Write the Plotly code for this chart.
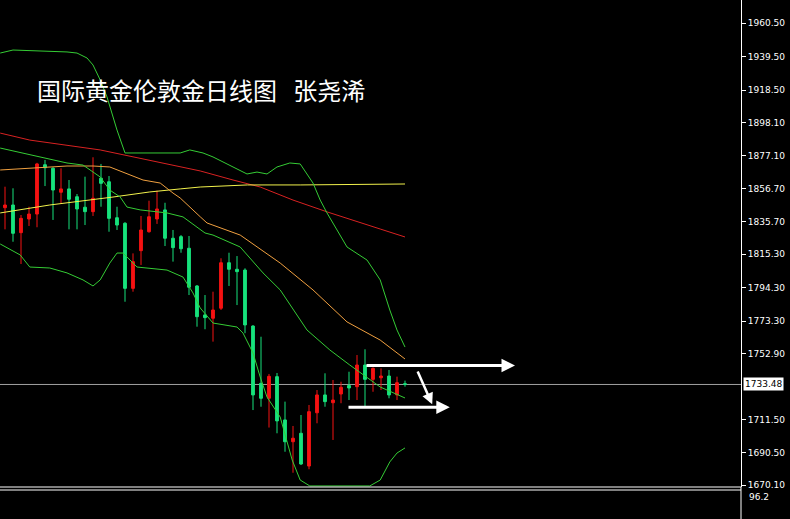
import plotly.graph_objects as go

# ---------------- data ----------------
title_text = "国际黄金伦敦金日线图\u00a0\u00a0\u00a0张尧浠"

candle_idx = list(range(51))
opens = [1844.6, 1846.3, 1828.9, 1837.5, 1840.6, 1871.6, 1869.4, 1854.3, 1856.4, 1851.5,
         1844.9, 1842.1, 1863.1, 1860.9, 1838.3, 1834.8, 1793.9, 1817.6, 1829.5, 1837.5,
         1843.2, 1825.4, 1826.4, 1819.1, 1795.4, 1777.2, 1775.1, 1781.4, 1810.0, 1805.9,
         1805.4, 1770.2, 1734.2, 1724.8, 1738.4, 1711.2, 1697.5, 1702.8, 1682.2, 1715.7,
         1726.9, 1722.0, 1727.5, 1732.8, 1732.1, 1745.7, 1736.7, 1737.7, 1738.8, 1726.9,
         1734.0]
highs = [1857.8, 1856.8, 1840.0, 1845.2, 1872.8, 1874.6, 1870.0, 1869.4, 1862.0, 1853.2,
         1864.1, 1876.3, 1872.1, 1864.5, 1845.2, 1835.5, 1815.9, 1839.4, 1849.0, 1855.3,
         1847.7, 1830.6, 1827.4, 1826.8, 1796.0, 1789.7, 1791.8, 1812.8, 1816.3, 1814.2,
         1806.5, 1770.8, 1763.5, 1740.1, 1740.7, 1722.7, 1707.4, 1714.3, 1720.6, 1730.0,
         1740.5, 1736.3, 1735.2, 1741.5, 1752.0, 1755.6, 1744.2, 1743.6, 1742.6, 1738.4,
         1735.9]
lows = [1831.0, 1823.2, 1809.2, 1833.1, 1832.3, 1858.2, 1836.9, 1847.4, 1831.0, 1831.0,
        1833.7, 1839.4, 1845.2, 1829.5, 1830.6, 1785.5, 1791.8, 1808.6, 1828.9, 1834.4,
        1820.5, 1810.7, 1816.3, 1789.7, 1769.8, 1768.2, 1760.4, 1780.3, 1795.4, 1783.4,
        1765.7, 1717.4, 1719.5, 1706.4, 1702.8, 1691.2, 1678.0, 1682.9, 1680.2, 1709.1,
        1719.5, 1698.6, 1721.7, 1723.7, 1723.7, 1719.5, 1728.9, 1730.0, 1724.8, 1723.7,
        1732.1]
closes = [1846.3, 1828.5, 1837.9, 1840.6, 1872.1, 1869.7, 1855.7, 1856.4, 1849.9, 1843.8,
          1842.1, 1850.5, 1859.9, 1837.9, 1833.7, 1793.9, 1810.7, 1830.6, 1838.9, 1843.8,
          1825.4, 1819.5, 1818.8, 1794.6, 1776.1, 1775.5, 1780.3, 1810.0, 1805.9, 1804.4,
          1770.9, 1726.9, 1724.8, 1738.6, 1710.6, 1697.5, 1699.7, 1683.5, 1716.4, 1726.9,
          1722.7, 1723.7, 1731.7, 1731.3, 1745.7, 1736.7, 1743.6, 1738.8, 1726.9, 1734.6,
          1733.5]

# long moving average (red)
ma_red_x = [-0.6, 3.1, 11.9, 24.4, 28.5, 31.9, 36.0, 40.3, 46.9, 50.0]
ma_red_y = [1891.5, 1887.1, 1880.9, 1867.7, 1862.0, 1857.6, 1849.4, 1841.9, 1831.2, 1826.2]

# moving average (yellow)
ma_yel_x = [-0.6, 5.6, 13.5, 18.1, 21.9, 24.4, 30.3, 36.9, 50.0]
ma_yel_y = [1841.3, 1846.3, 1851.3, 1854.5, 1856.4, 1857.6, 1858.9, 1858.9, 1859.5]

# moving average (orange)
ma_org_x = [-0.6, 7.75, 11.0, 13.1, 17.25, 19.4, 21.0, 21.9, 24.4, 25.25, 29.4, 34.4,
            38.5, 42.75, 46.9, 49.4, 50.0]
ma_org_y = [1868.3, 1870.8, 1870.8, 1870.2, 1862.0, 1860.1, 1853.8, 1850.7, 1838.9,
            1835.0, 1827.4, 1809.8, 1792.9, 1772.8, 1761.4, 1752.0, 1749.5]

# Bollinger middle band
bb_mid_x = [-0.6, 4.75, 7.75, 9.75, 11.9, 13.1, 14.4, 15.25, 16.9, 20.25, 22.25, 25.0,
            26.0, 29.4, 32.25, 34.4, 37.75, 40.6, 43.1, 46.9, 50.0]
bb_mid_y = [1882.1, 1875.8, 1872.7, 1871.4, 1863.9, 1855.7, 1851.3, 1845.0, 1843.2,
            1841.3, 1838.8, 1828.7, 1827.4, 1819.9, 1803.6, 1792.9, 1767.7, 1755.2,
            1745.7, 1731.9, 1725.0]

# Bollinger upper band
bb_up_x = [-0.6, 1.0, 7.75, 9.0, 10.25, 11.0, 11.9, 12.75, 14.0, 15.0, 16.0, 21.9, 23.1,
           24.75, 26.0, 28.5, 30.25, 31.5, 32.75, 34.0, 35.6, 36.9, 38.5, 39.4, 40.25,
           42.75, 45.25, 46.9, 48.1, 49.0, 50.0]
bb_up_y = [1941.8, 1943.7, 1942.5, 1941.8, 1938.7, 1934.3, 1924.9, 1914.2, 1893.4, 1879.0,
           1879.0, 1879.0, 1880.9, 1879.0, 1876.5, 1870.2, 1865.8, 1867.0, 1865.8, 1870.2,
           1872.7, 1872.1, 1860.1, 1849.4, 1841.3, 1819.9, 1811.7, 1799.2, 1780.3, 1767.7,
           1757.0]

# Bollinger lower band
bb_lo_x = [-0.6, 1.9, 3.1, 5.6, 7.75, 9.75, 11.0, 11.9, 13.1, 14.0, 14.75, 16.5, 20.25,
           22.25, 23.5, 24.4, 26.0, 29.0, 29.75, 31.0, 31.9, 32.75, 34.4, 35.9, 36.9, 38.1,
           45.6, 46.9, 48.1, 49.0, 50.0]
bb_lo_y = [1821.8, 1814.9, 1807.3, 1806.7, 1803.6, 1799.2, 1795.4, 1799.2, 1809.8, 1816.1,
           1816.1, 1807.3, 1805.4, 1801.0, 1791.0, 1781.6, 1772.1, 1769.6, 1765.8, 1753.3,
           1738.2, 1725.6, 1713.0, 1686.0, 1673.4, 1669.7, 1669.7, 1673.4, 1684.8, 1690.4,
           1693.6]

current_price = 1733.48
current_label = "1733.48"
sub_label = "96.2"

tick_vals = [1960.5, 1939.5, 1918.5, 1898.1, 1877.1, 1856.7, 1835.7, 1815.3, 1794.3,
             1773.3, 1752.9, 1711.5, 1690.5, 1670.1]
tick_text = ["%.2f" % v for v in tick_vals]

# drawn arrows (tail -> head)
arrow_tail_x = [45.0, 42.75, 51.5]
arrow_tail_y = [1745.4, 1719.2, 1742.6]
arrow_head_x = [63.75, 55.6, 53.4]
arrow_head_y = [1745.4, 1719.2, 1721.0]
arrow_width = [3, 3, 2.5]

# ---------------- figure ----------------
W, H = 790, 519
PLOT_R = 741          # right edge of plot area (px)
MAIN_BOTTOM = 487     # bottom of main window (px)
SUB_TOP = 490

RED = "#f51212"
GREEN = "#17e27c"
BAND = "#35cc35"

fig = go.Figure()

fig.add_trace(go.Candlestick(
    x=candle_idx, open=opens, high=highs, low=lows, close=closes,
    increasing=dict(line=dict(color=RED, width=1), fillcolor=RED),
    decreasing=dict(line=dict(color=GREEN, width=1), fillcolor=GREEN),
    whiskerwidth=0, showlegend=False, hoverinfo="skip",
))

def add_line(xs, ys, color):
    fig.add_trace(go.Scatter(x=xs, y=ys, mode="lines",
                             line=dict(color=color, width=1),
                             showlegend=False, hoverinfo="skip"))

add_line(ma_red_x, ma_red_y, "#d82222")
add_line(ma_yel_x, ma_yel_y, "#f2f24c")
add_line(ma_org_x, ma_org_y, "#f0a040")
add_line(bb_up_x, bb_up_y, BAND)
add_line(bb_mid_x, bb_mid_y, BAND)
add_line(bb_lo_x, bb_lo_y, BAND)

# y range chosen so that prices map onto pixels like the reference
y_top = 1975.15
y_bottom = 1669.04
dom0 = (H - MAIN_BOTTOM) / H

shapes = [
    dict(type="line", xref="paper", yref="y", x0=0, x1=1,
         y0=current_price, y1=current_price,
         line=dict(color="#a0a0a0", width=1), layer="below"),
    dict(type="line", xref="paper", yref="paper", x0=0, x1=1,
         y0=1 - MAIN_BOTTOM / H, y1=1 - MAIN_BOTTOM / H,
         line=dict(color="white", width=1)),
    dict(type="line", xref="paper", yref="paper", x0=0, x1=1,
         y0=1 - SUB_TOP / H, y1=1 - SUB_TOP / H,
         line=dict(color="white", width=1)),
    dict(type="line", xref="paper", yref="paper", x0=1, x1=1,
         y0=0, y1=dom0, line=dict(color="white", width=1)),
]

annotations = [
    dict(text=title_text, xref="paper", yref="paper", x=35 / PLOT_R, y=1 - 89 / H,
         xanchor="left", yanchor="middle", showarrow=False,
         font=dict(family="Noto Sans CJK SC", size=24, color="white")),
    dict(text=current_label, xref="paper", yref="y", x=1, y=current_price,
         xanchor="left", yanchor="middle", xshift=2, showarrow=False,
         bgcolor="white", borderpad=1,
         font=dict(family="DejaVu Sans", size=9, color="black")),
    dict(text=sub_label, xref="paper", yref="paper", x=1, y=1 - 497 / H,
         xanchor="left", yanchor="middle", xshift=6, showarrow=False,
         font=dict(family="DejaVu Sans", size=9, color="white")),
]
for tx, ty, hx, hy, aw in zip(arrow_tail_x, arrow_tail_y, arrow_head_x, arrow_head_y, arrow_width):
    annotations.append(dict(
        x=hx, y=hy, ax=tx, ay=ty, xref="x", yref="y", axref="x", ayref="y",
        text="", showarrow=True, arrowhead=2, arrowsize=0.9, arrowwidth=aw,
        arrowcolor="white", standoff=0, startstandoff=0))

fig.update_layout(
    width=W, height=H,
    margin=dict(l=0, r=W - PLOT_R, t=0, b=0, pad=0, autoexpand=False),
    paper_bgcolor="black", plot_bgcolor="black",
    boxgap=0.5,
    showlegend=False,
    xaxis=dict(visible=False, range=[-0.625, (PLOT_R - 5) / 8],
               rangeslider=dict(visible=False), fixedrange=True),
    yaxis=dict(side="right", range=[y_bottom, y_top], domain=[dom0, 1],
               showgrid=False, zeroline=False,
               tickmode="array", tickvals=tick_vals, ticktext=tick_text,
               ticks="outside", ticklen=4, tickcolor="white", tickwidth=1,
               tickfont=dict(family="DejaVu Sans", size=9, color="white"),
               showline=True, linecolor="white", linewidth=1, fixedrange=True),
    shapes=shapes,
    annotations=annotations,
)

fig.write_html("out.html", config={"displayModeBar": False},
               post_script="document.body.style.margin='0';document.body.style.background='black';")
